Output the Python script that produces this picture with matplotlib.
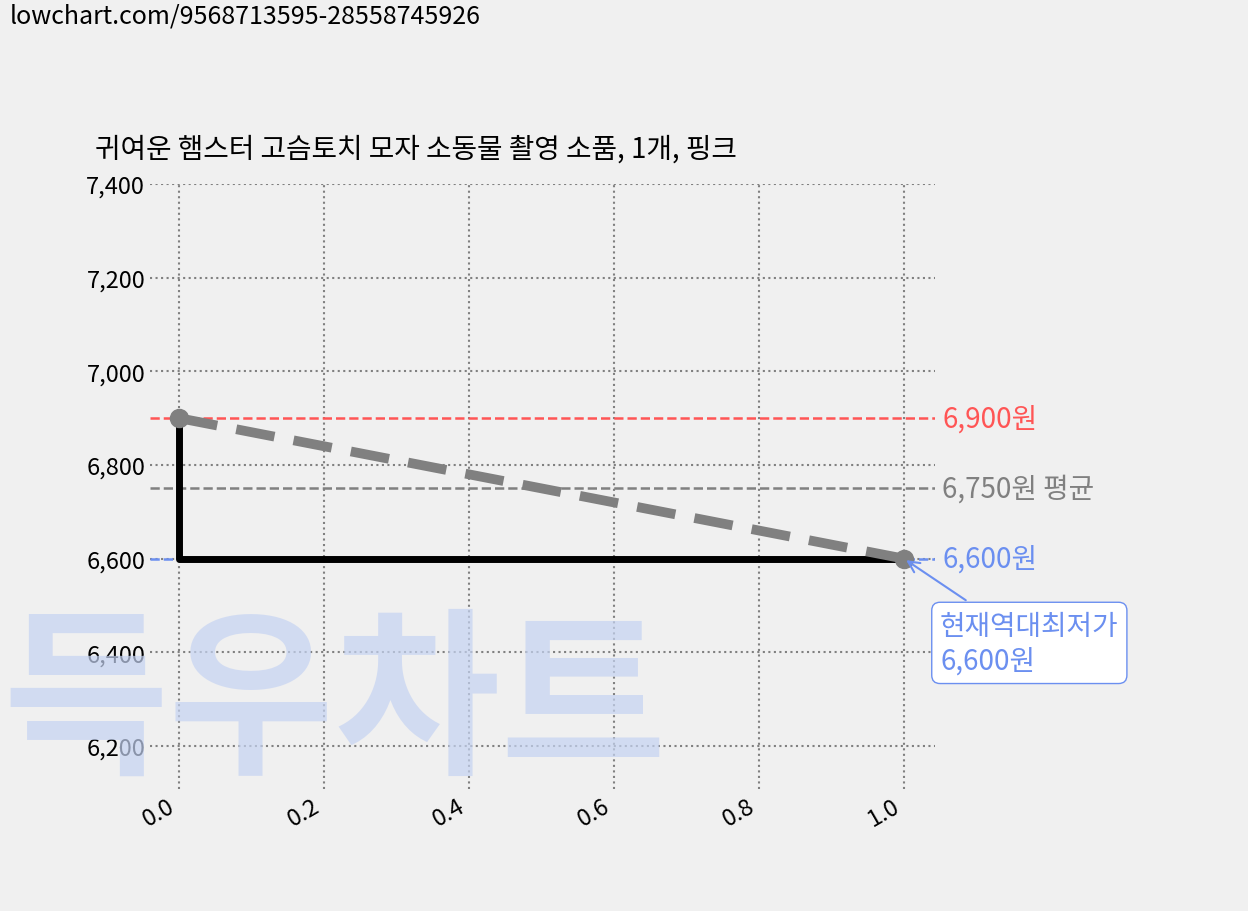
import matplotlib
matplotlib.use("Agg")
import matplotlib.pyplot as plt

plt.rcParams['font.family'] = ['Noto Sans CJK KR', 'DejaVu Sans']

x = [0.0, 1.0]
prices = [6900, 6600]
max_p, avg_p, min_p = 6900, 6750, 6600
title = "귀여운 햄스터 고슴토치 모자 소동물 촬영 소품, 1개, 핑크"

fig = plt.figure(figsize=(12.48, 9.12), dpi=100, facecolor='#f0f0f0')
ax = fig.add_axes([150/1248, 1-790/912, 785/1248, (790-185)/912])
ax.set_facecolor('#f0f0f0')
for s in ax.spines.values():
    s.set_visible(False)
ax.set_xlim(-0.04, 1.043)
ax.set_ylim(6108, 7400)
ax.grid(True, linestyle=':', color='gray', linewidth=1.5)
ax.tick_params(length=0, labelsize=17)
ax.set_yticks([6200, 6400, 6600, 6800, 7000, 7200, 7400])
ax.set_yticklabels([f"{v:,}" for v in [6200, 6400, 6600, 6800, 7000, 7200, 7400]])
ax.set_xticks([0, 0.2, 0.4, 0.6, 0.8, 1.0])
ax.set_xticklabels(["0.0", "0.2", "0.4", "0.6", "0.8", "1.0"], rotation=30, ha='right')

fig.text(2/1248, 1-760/912, "득우차트", fontsize=130, color='#c5d3f2', alpha=0.7, weight='bold')

ax.axhline(max_p, color='#ff5555', linestyle='--', linewidth=1.8)
ax.axhline(avg_p, color='gray', linestyle='--', linewidth=1.8)
ax.axhline(min_p, color='#6b8ff0', linestyle='--', linewidth=1.8)
ax.plot(x, prices, drawstyle='steps-pre', color='black', linewidth=5)
ax.plot(x, prices, color='gray', linestyle='--', linewidth=7, dashes=(4, 2),
        marker='o', markersize=13)

ax.text(1.053, max_p, f"{max_p:,}원", color='#ff5555', fontsize=20, va='center')
ax.text(1.053, avg_p, f"{avg_p:,}원 평균", color='gray', fontsize=20, va='center')
ax.text(1.053, min_p, f"{min_p:,}원", color='#6b8ff0', fontsize=20, va='center')
ax.annotate(f"현재역대최저가\n{min_p:,}원", xy=(1.0, min_p), xytext=(1.05, 6420),
            color='#6b8ff0', fontsize=20, va='center', annotation_clip=False,
            bbox=dict(boxstyle='round,pad=0.3', fc='white', ec='#6b8ff0'),
            arrowprops=dict(arrowstyle='->', color='#6b8ff0', lw=1.5))

fig.text(95/1248, 1-150/912, title, fontsize=20, va='center')
fig.text(10/1248, 1-16/912, "lowchart.com/9568713595-28558745926", fontsize=18, va='center')

fig.savefig("out.png", dpi=100, facecolor=fig.get_facecolor())
